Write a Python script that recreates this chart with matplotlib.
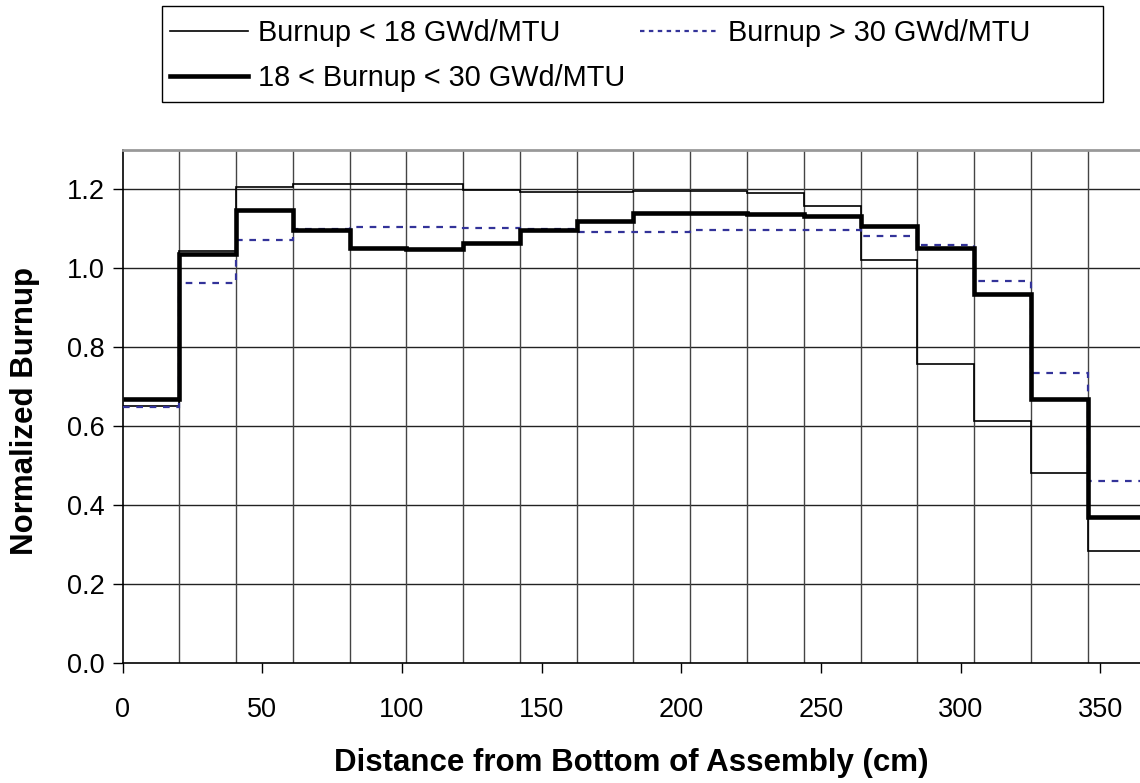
import numpy as np
import matplotlib
matplotlib.use("Agg")
import matplotlib.pyplot as plt
from matplotlib.lines import Line2D
from matplotlib.patches import Rectangle

plt.rcParams['font.family'] = ['Liberation Sans', 'DejaVu Sans']

# ---- data ----
assembly_height = 365.76          # cm
n_zones = 18
zone_edges = np.linspace(0, assembly_height, n_zones + 1)

burnup_low = [0.650, 1.044, 1.207, 1.214, 1.215, 1.213, 1.199, 1.193, 1.193,
              1.195, 1.195, 1.190, 1.158, 1.021, 0.757, 0.614, 0.482, 0.283]
burnup_mid = [0.669, 1.036, 1.148, 1.096, 1.052, 1.048, 1.065, 1.097, 1.121,
              1.139, 1.139, 1.138, 1.132, 1.107, 1.052, 0.935, 0.669, 0.370]
burnup_high = [0.648, 0.962, 1.071, 1.099, 1.105, 1.105, 1.101, 1.100, 1.091,
               1.091, 1.096, 1.096, 1.096, 1.083, 1.059, 0.968, 0.734, 0.460]

labels = ["Burnup < 18 GWd/MTU",
          "18 < Burnup < 30 GWd/MTU",
          "Burnup > 30 GWd/MTU"]

x_ticks = [0, 50, 100, 150, 200, 250, 300, 350]
y_ticks = [0.0, 0.2, 0.4, 0.6, 0.8, 1.0, 1.2]

# ---- figure ----
W, H = 1140, 783
fig = plt.figure(figsize=(W / 100, H / 100), dpi=100)
ax_left, ax_bottom_px, ax_top_px = 122.5, 662.7, 150.0
ax = fig.add_axes([ax_left / W, 1 - ax_bottom_px / H,
                   1 - ax_left / W, (ax_bottom_px - ax_top_px) / H])

ax.set_xlim(0, 364.2)
ax.set_ylim(0, 1.3)

# grid
for yv in y_ticks[1:]:
    ax.axhline(yv, color='#222222', lw=1.0, zorder=1)
for xe in zone_edges[1:-1]:
    ax.axvline(xe, color='#444444', lw=1.0, zorder=1)

high_color = '#333399'
ax.stairs(burnup_low, zone_edges, baseline=None, color='black', lw=1.2, zorder=3)
ax.stairs(burnup_high, zone_edges, baseline=None, color=high_color, lw=1.6,
          linestyle=(0, (3, 3)), zorder=4)
ax.stairs(burnup_mid, zone_edges, baseline=None, color='black', lw=3.3, zorder=5)

ax.set_xticks(x_ticks)
ax.set_xticklabels([str(v) for v in x_ticks])
ax.set_yticks(y_ticks)
ax.set_yticklabels([f"{v:.1f}" for v in y_ticks])
ax.tick_params(axis='both', direction='out', length=7, width=1.0,
               labelsize=19.5, colors='black')
ax.tick_params(axis='x', pad=18)
ax.tick_params(axis='y', pad=6)

for s in ['left', 'bottom']:
    ax.spines[s].set_color('black')
    ax.spines[s].set_linewidth(1.2)
ax.spines['top'].set_color('#999999')
ax.spines['top'].set_linewidth(2.0)
ax.spines['right'].set_visible(False)

ax.set_xlabel("Distance from Bottom of Assembly (cm)", fontsize=22.5,
              fontweight='bold')
ax.set_ylabel("Normalized Burnup", fontsize=22.5, fontweight='bold')
ax.xaxis.set_label_coords(0.5, -0.166)
ax.yaxis.set_label_coords(-0.081, 0.49)

# legend frame (drawn separately to match the reference box)
fig.patches.append(Rectangle((162 / W, 1 - 102 / H), (1103 - 162) / W, 96 / H,
                             transform=fig.transFigure, fill=False,
                             edgecolor='black', lw=1.0))

handles = [Line2D([], [], color='black', lw=1.2),
           Line2D([], [], color='black', lw=3.3),
           Line2D([], [], color=high_color, lw=1.6, linestyle=(0, (2, 2)))]
leg = fig.legend(handles, labels, ncol=2, loc='center left',
                 bbox_to_anchor=(170 / W, 1 - 55.5 / H),
                 fontsize=20.8, frameon=False,
                 handlelength=2.7, handletextpad=0.35, columnspacing=0.5,
                 borderpad=0, labelspacing=0.6, borderaxespad=0)

fig.savefig("out.png", dpi=100)
